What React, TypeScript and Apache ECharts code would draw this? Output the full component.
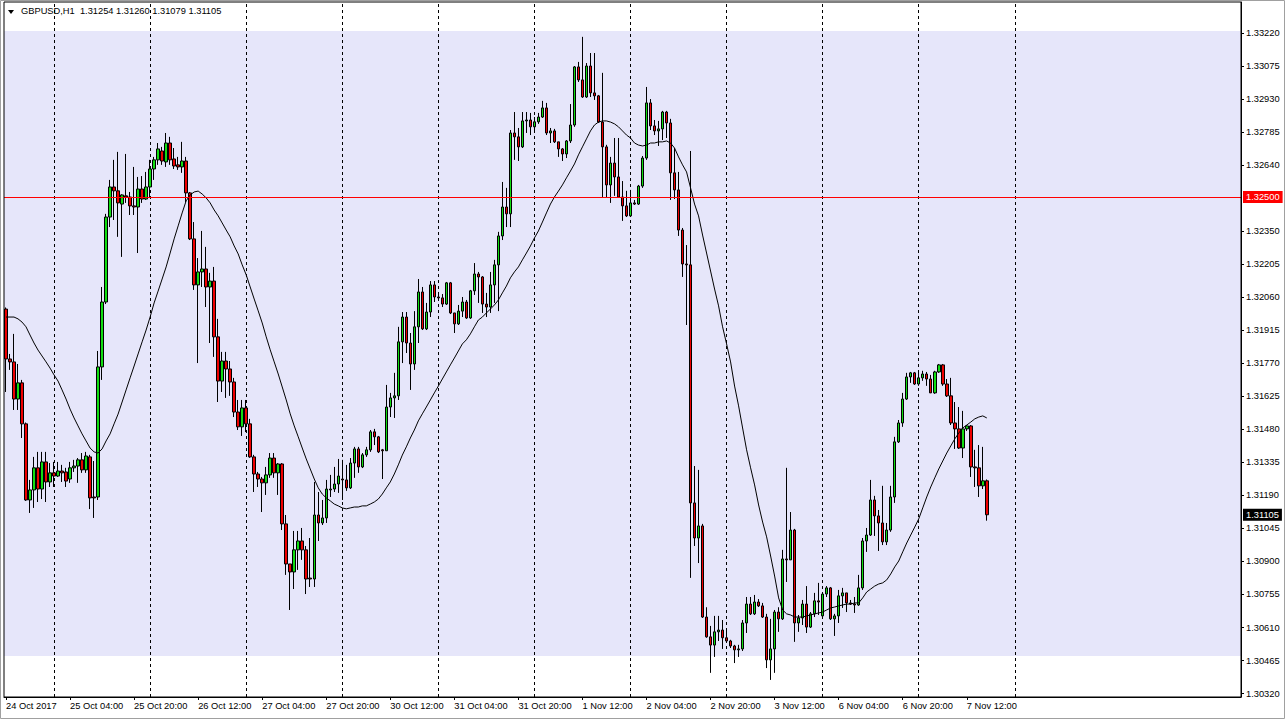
import React, { useEffect, useRef } from "react";
import * as echarts from "echarts";

const symbolName = "GBPUSD,H1";
const slotCount = 309; // bars + chart shift space

const timeLabels = [
  "24 Oct 2017", "25 Oct 04:00", "25 Oct 20:00", "26 Oct 12:00", "27 Oct 04:00", "27 Oct 20:00",
  "30 Oct 12:00", "31 Oct 04:00", "31 Oct 20:00", "1 Nov 12:00", "2 Nov 04:00", "2 Nov 20:00",
  "3 Nov 12:00", "6 Nov 04:00", "6 Nov 20:00", "7 Nov 12:00",
];
const daySeparators = [12, 36, 60, 84, 108, 132, 156, 180, 204, 228, 252];

const priceTicks = [
  1.3032, 1.30465, 1.3061, 1.30755, 1.309, 1.31045, 1.3119, 1.31335, 1.3148, 1.31625,
  1.3177, 1.31915, 1.3206, 1.32205, 1.3235, 1.3264, 1.32785, 1.3293, 1.33075, 1.3322,
];
const priceMin = 1.30305;
const priceMax = 1.33356;
const levelLine = 1.325;
const zoneLow = 1.30485;
const zoneHigh = 1.33229;

const opens = [
  1.32008,1.31789,1.31776,1.31613,1.31684,1.31504,1.31170,1.31214,1.31311,1.31218,
  1.31337,1.31249,1.31289,1.31275,1.31297,1.31293,1.31262,1.31311,1.31319,1.31346,
  1.31302,1.31359,1.31183,1.31183,1.31754,1.32039,1.32412,1.32544,1.32527,1.32469,
  1.32505,1.32500,1.32461,1.32456,1.32535,1.32491,1.32544,1.32623,1.32663,1.32702,
  1.32654,1.32737,1.32667,1.32641,1.32632,1.32658,1.32518,1.32316,1.32114,1.32171,
  1.32184,1.32105,1.32131,1.31886,1.31692,1.31780,1.31745,1.31688,1.31556,1.31491,
  1.31574,1.31504,1.31359,1.31284,1.31262,1.31245,1.31280,1.31354,1.31289,1.31328,
  1.31065,1.30889,1.30854,1.30951,1.30990,1.30951,1.30827,1.30823,1.31104,1.31069,
  1.31091,1.31214,1.31218,1.31240,1.31262,1.31258,1.31223,1.31332,1.31394,1.31315,
  1.31368,1.31390,1.31469,1.31447,1.31390,1.31386,1.31578,1.31618,1.31627,1.31864,
  1.31973,1.31859,1.31767,1.31930,1.32083,1.31921,1.31995,1.32114,1.32061,1.32057,
  1.32030,1.32123,1.31991,1.31943,1.31999,1.32039,1.31969,1.32088,1.32162,1.32149,
  1.32030,1.32017,1.32114,1.32202,1.32329,1.32456,1.32426,1.32781,1.32764,1.32720,
  1.32834,1.32838,1.32808,1.32830,1.32851,1.32891,1.32781,1.32790,1.32742,1.32711,
  1.32689,1.32746,1.32816,1.33071,1.33014,1.32939,1.33075,1.32957,1.32944,1.32829,
  1.32720,1.32553,1.32649,1.32588,1.32500,1.32461,1.32417,1.32474,1.32469,1.32548,
  1.32671,1.32913,1.32812,1.32790,1.32799,1.32873,1.32825,1.32606,1.32531,1.32355,
  1.32206,1.32202,1.31157,1.31003,1.31056,1.30656,1.30569,1.30533,1.30591,1.30599,
  1.30565,1.30551,1.30529,1.30512,1.30516,1.30630,1.30713,1.30670,1.30722,1.30705,
  1.30656,1.30468,1.30516,1.30678,1.30648,1.30911,1.30907,1.31038,1.30630,1.30652,
  1.30713,1.30612,1.30670,1.30727,1.30661,1.30757,1.30784,1.30648,1.30661,1.30749,
  1.30762,1.30718,1.30713,1.30709,1.30784,1.30990,1.31016,1.31170,1.31100,1.31069,
  1.30986,1.31038,1.31183,1.31425,1.31508,1.31613,1.31710,1.31728,1.31679,1.31706,
  1.31723,1.31701,1.31640,1.31732,1.31763,1.31679,1.31627,1.31508,1.31482,1.31398,
  1.31482,1.31495,1.31315,1.31311,1.31232,1.31254,
];

const highs = [
  1.32015,1.31811,1.31899,1.31767,1.31697,1.31510,1.31258,1.31359,1.31381,1.31381,
  1.31381,1.31332,1.31337,1.31337,1.31324,1.31311,1.31337,1.31346,1.31354,1.31376,
  1.31381,1.31368,1.31341,1.31824,1.32105,1.32426,1.32575,1.32663,1.32698,1.32512,
  1.32689,1.32522,1.32632,1.32588,1.32592,1.32610,1.32663,1.32676,1.32737,1.32720,
  1.32781,1.32764,1.32715,1.32676,1.32742,1.32676,1.32522,1.32390,1.32232,1.32351,
  1.32281,1.32167,1.32193,1.31965,1.31820,1.31820,1.31780,1.31706,1.31609,1.31609,
  1.31609,1.31526,1.31368,1.31293,1.31271,1.31315,1.31376,1.31376,1.31332,1.31332,
  1.31104,1.30889,1.31034,1.31034,1.31047,1.30968,1.31003,1.31249,1.31205,1.31170,
  1.31258,1.31280,1.31315,1.31350,1.31346,1.31324,1.31354,1.31403,1.31403,1.31376,
  1.31403,1.31477,1.31482,1.31451,1.31394,1.31675,1.31640,1.31728,1.31930,1.31995,
  1.31995,1.31903,1.31999,1.32140,1.32105,1.32035,1.32131,1.32131,1.32083,1.32074,
  1.32127,1.32127,1.31991,1.32026,1.32061,1.32048,1.32092,1.32210,1.32171,1.32153,
  1.32079,1.32171,1.32224,1.32347,1.32566,1.32540,1.32794,1.32873,1.32803,1.32873,
  1.32873,1.32869,1.32851,1.32869,1.32922,1.32913,1.32803,1.32799,1.32742,1.32715,
  1.32750,1.32908,1.33075,1.33093,1.33203,1.33088,1.33132,1.33132,1.32948,1.33045,
  1.32729,1.32676,1.32759,1.32759,1.32570,1.32527,1.32531,1.32487,1.32553,1.32680,
  1.32983,1.32930,1.32838,1.32834,1.32878,1.32878,1.32843,1.32715,1.32610,1.32364,
  1.32289,1.32702,1.31319,1.31302,1.31065,1.30699,1.30617,1.30661,1.30661,1.30643,
  1.30599,1.30556,1.30534,1.30534,1.30643,1.30744,1.30744,1.30753,1.30735,1.30718,
  1.30670,1.30648,1.30687,1.30699,1.30951,1.31311,1.31117,1.31043,1.30665,1.30731,
  1.30792,1.30678,1.30762,1.30806,1.30766,1.30792,1.30788,1.30670,1.30775,1.30784,
  1.30762,1.30731,1.30744,1.30841,1.31003,1.31047,1.31258,1.31188,1.31126,1.31232,
  1.31069,1.31232,1.31447,1.31521,1.31640,1.31728,1.31732,1.31732,1.31728,1.31737,
  1.31732,1.31719,1.31737,1.31767,1.31767,1.31701,1.31706,1.31600,1.31578,1.31561,
  1.31499,1.31499,1.31390,1.31411,1.31403,1.31260,
];

const lows = [
  1.31644,1.31741,1.31565,1.31565,1.31442,1.31166,1.31113,1.31135,1.31161,1.31174,
  1.31161,1.31227,1.31227,1.31271,1.31249,1.31227,1.31245,1.31293,1.31245,1.31289,
  1.31289,1.31130,1.31091,1.31170,1.31697,1.32030,1.32368,1.32399,1.32325,1.32237,
  1.32474,1.32421,1.32421,1.32254,1.32474,1.32487,1.32500,1.32575,1.32641,1.32641,
  1.32632,1.32641,1.32623,1.32619,1.32606,1.32478,1.32311,1.32092,1.31771,1.32105,
  1.32017,1.31859,1.31798,1.31600,1.31644,1.31618,1.31627,1.31534,1.31477,1.31451,
  1.31468,1.31355,1.31205,1.31227,1.31117,1.31192,1.31267,1.31267,1.31192,1.31038,
  1.30841,1.30687,1.30779,1.30863,1.30907,1.30757,1.30788,1.30788,1.30990,1.31060,
  1.31069,1.31183,1.31205,1.31201,1.31170,1.31210,1.31218,1.31267,1.31289,1.31310,
  1.31359,1.31381,1.31411,1.31376,1.31262,1.31386,1.31534,1.31530,1.31609,1.31771,
  1.31815,1.31653,1.31741,1.31859,1.31916,1.31916,1.31973,1.32039,1.32057,1.32017,
  1.32026,1.31986,1.31903,1.31938,1.31973,1.31965,1.31965,1.32070,1.32035,1.31991,
  1.31973,1.31991,1.32035,1.31999,1.32311,1.32368,1.32368,1.32663,1.32658,1.32715,
  1.32781,1.32772,1.32781,1.32821,1.32847,1.32772,1.32737,1.32737,1.32676,1.32658,
  1.32671,1.32737,1.32808,1.33005,1.32935,1.32935,1.32939,1.32926,1.32825,1.32500,
  1.32496,1.32474,1.32505,1.32496,1.32395,1.32412,1.32412,1.32465,1.32465,1.32540,
  1.32663,1.32794,1.32772,1.32724,1.32750,1.32759,1.32487,1.32491,1.32329,1.32149,
  1.31938,1.30828,1.30968,1.30893,1.30652,1.30565,1.30411,1.30481,1.30551,1.30516,
  1.30547,1.30520,1.30454,1.30481,1.30507,1.30586,1.30665,1.30665,1.30700,1.30652,
  1.30432,1.30380,1.30411,1.30591,1.30643,1.30810,1.30907,1.30547,1.30591,1.30621,
  1.30586,1.30608,1.30656,1.30665,1.30652,1.30744,1.30643,1.30573,1.30630,1.30696,
  1.30678,1.30709,1.30674,1.30705,1.30775,1.30942,1.31012,1.31012,1.30946,1.30972,
  1.30972,1.31030,1.31157,1.31420,1.31491,1.31609,1.31684,1.31675,1.31671,1.31693,
  1.31671,1.31640,1.31636,1.31728,1.31671,1.31622,1.31499,1.31394,1.31394,1.31354,
  1.31473,1.31271,1.31227,1.31183,1.31218,1.31079,
];

const closes = [
  1.31789,1.31776,1.31613,1.31684,1.31504,1.31170,1.31214,1.31311,1.31218,1.31337,
  1.31249,1.31289,1.31275,1.31297,1.31289,1.31253,1.31311,1.31319,1.31346,1.31302,
  1.31363,1.31179,1.31179,1.31754,1.32039,1.32412,1.32544,1.32527,1.32474,1.32509,
  1.32500,1.32461,1.32456,1.32535,1.32491,1.32544,1.32623,1.32663,1.32711,1.32658,
  1.32737,1.32663,1.32636,1.32632,1.32658,1.32518,1.32316,1.32114,1.32171,1.32184,
  1.32105,1.32131,1.31886,1.31692,1.31780,1.31745,1.31688,1.31556,1.31491,1.31574,
  1.31504,1.31359,1.31284,1.31262,1.31245,1.31280,1.31354,1.31289,1.31328,1.31065,
  1.30889,1.30854,1.30951,1.30990,1.30951,1.30823,1.30823,1.31104,1.31069,1.31091,
  1.31218,1.31218,1.31240,1.31275,1.31258,1.31223,1.31332,1.31394,1.31315,1.31368,
  1.31390,1.31469,1.31447,1.31381,1.31386,1.31578,1.31618,1.31627,1.31864,1.31973,
  1.31859,1.31767,1.31930,1.32083,1.31921,1.31995,1.32114,1.32061,1.32057,1.32030,
  1.32123,1.31991,1.31943,1.31999,1.32039,1.31969,1.32088,1.32162,1.32149,1.32030,
  1.32017,1.32114,1.32202,1.32329,1.32456,1.32426,1.32781,1.32764,1.32720,1.32834,
  1.32838,1.32808,1.32830,1.32851,1.32891,1.32781,1.32790,1.32742,1.32711,1.32689,
  1.32746,1.32816,1.33071,1.33014,1.32939,1.33075,1.32957,1.32944,1.32829,1.32720,
  1.32553,1.32649,1.32588,1.32500,1.32461,1.32417,1.32474,1.32469,1.32548,1.32671,
  1.32913,1.32812,1.32790,1.32799,1.32873,1.32825,1.32606,1.32531,1.32355,1.32206,
  1.32202,1.31157,1.31003,1.31056,1.30656,1.30569,1.30533,1.30591,1.30599,1.30565,
  1.30551,1.30529,1.30512,1.30516,1.30630,1.30713,1.30670,1.30722,1.30705,1.30656,
  1.30468,1.30516,1.30678,1.30648,1.30911,1.30907,1.31038,1.30630,1.30652,1.30713,
  1.30612,1.30670,1.30727,1.30722,1.30757,1.30784,1.30648,1.30661,1.30749,1.30762,
  1.30718,1.30713,1.30709,1.30784,1.30990,1.31016,1.31170,1.31100,1.31069,1.30986,
  1.31038,1.31183,1.31425,1.31508,1.31613,1.31710,1.31728,1.31679,1.31706,1.31723,
  1.31701,1.31640,1.31732,1.31763,1.31679,1.31627,1.31508,1.31482,1.31398,1.31482,
  1.31495,1.31315,1.31311,1.31232,1.31254,1.31105,
];

const movingAverage = [
  1.31973,1.31973,1.31973,1.31965,1.31951,1.31930,1.31894,1.31859,1.31828,1.31802,
  1.31776,1.31749,1.31719,1.31692,1.31653,1.31613,1.31569,1.31530,1.31495,1.31460,
  1.31429,1.31398,1.31381,1.31376,1.31394,1.31429,1.31460,1.31504,1.31547,1.31600,
  1.31653,1.31706,1.31758,1.31811,1.31864,1.31916,1.31973,1.32035,1.32087,1.32140,
  1.32193,1.32254,1.32316,1.32373,1.32430,1.32483,1.32509,1.32522,1.32526,1.32513,
  1.32496,1.32474,1.32443,1.32417,1.32386,1.32355,1.32325,1.32285,1.32250,1.32202,
  1.32158,1.32105,1.32052,1.32000,1.31947,1.31886,1.31829,1.31776,1.31723,1.31666,
  1.31609,1.31548,1.31495,1.31447,1.31398,1.31350,1.31306,1.31262,1.31223,1.31196,
  1.31179,1.31166,1.31152,1.31144,1.31135,1.31131,1.31135,1.31139,1.31139,1.31144,
  1.31144,1.31152,1.31161,1.31174,1.31196,1.31223,1.31249,1.31284,1.31324,1.31367,
  1.31403,1.31442,1.31477,1.31517,1.31548,1.31578,1.31609,1.31640,1.31670,1.31701,
  1.31732,1.31763,1.31793,1.31824,1.31855,1.31873,1.31899,1.31930,1.31960,1.31973,
  1.31991,1.32008,1.32026,1.32048,1.32079,1.32109,1.32145,1.32171,1.32193,1.32224,
  1.32254,1.32285,1.32320,1.32351,1.32390,1.32430,1.32469,1.32500,1.32526,1.32553,
  1.32584,1.32614,1.32645,1.32685,1.32720,1.32755,1.32790,1.32816,1.32829,1.32834,
  1.32834,1.32829,1.32821,1.32808,1.32790,1.32772,1.32759,1.32737,1.32728,1.32724,
  1.32728,1.32737,1.32737,1.32742,1.32742,1.32746,1.32737,1.32715,1.32676,1.32641,
  1.32610,1.32540,1.32469,1.32417,1.32333,1.32254,1.32175,1.32096,1.32022,1.31930,
  1.31855,1.31776,1.31670,1.31583,1.31486,1.31390,1.31311,1.31236,1.31148,1.31073,
  1.31008,1.30924,1.30836,1.30740,1.30687,1.30670,1.30665,1.30656,1.30656,1.30656,
  1.30661,1.30665,1.30670,1.30674,1.30678,1.30687,1.30696,1.30700,1.30705,1.30709,
  1.30713,1.30713,1.30718,1.30718,1.30740,1.30766,1.30779,1.30792,1.30801,1.30806,
  1.30819,1.30845,1.30876,1.30902,1.30942,1.30981,1.31016,1.31051,1.31087,1.31135,
  1.31183,1.31227,1.31267,1.31306,1.31341,1.31376,1.31407,1.31438,1.31464,1.31486,
  1.31499,1.31512,1.31526,1.31534,1.31539,1.31530,
];

const FONT = '"Liberation Sans", Arial, sans-serif';
const FS = 9.3;

export default function App() {
  const ref = useRef<HTMLDivElement>(null);

  useEffect(() => {
    document.body.style.margin = "0";
    if (!ref.current) return;
    const chart = echarts.init(ref.current, null, { renderer: "svg" });

    const slots = Array.from({ length: slotCount }, (_, i) => String(i));
    const candles = opens.map((o, i) => {
      const c = closes[i];
      return [o, c, Math.min(lows[i], o, c), Math.max(highs[i], o, c)];
    });
    const last = opens.length - 1;
    const bid = closes[last];
    const header = `${symbolName}  ${opens[last].toFixed(5)} ${highs[last].toFixed(5)} ${lows[last].toFixed(5)} ${closes[last].toFixed(5)}`;
    const showLabel = (idx: number) => idx % 16 === 0 && idx / 16 < timeLabels.length;

    const boxLabel = (bg: string, value: number) => ({
      show: true,
      position: "end",
      distance: 2,
      formatter: () => value.toFixed(5),
      backgroundColor: bg,
      color: "#fff",
      padding: [2, 3, 1, 3],
      fontSize: FS,
      fontFamily: FONT,
    });

    chart.setOption({
      animation: false,
      backgroundColor: "#ffffff",
      title: {
        text: header,
        left: 21,
        top: 6,
        padding: 0,
        textStyle: { fontSize: FS, fontWeight: "normal", color: "#000", fontFamily: FONT },
      },
      graphic: [
        { type: "polygon", shape: { points: [[8, 10], [14, 10], [11, 14]] }, style: { fill: "#000" }, z: 50 },
        { type: "rect", shape: { x: 0.5, y: 0.5, width: 1284, height: 718 }, style: { fill: "none", stroke: "#a0a0a0", lineWidth: 1 }, z: 50 },
      ],
      grid: {
        left: 4, right: 45, top: 2, bottom: 23,
        show: true, z: 10, borderColor: "#000", borderWidth: 1, backgroundColor: "transparent",
      },
      xAxis: {
        type: "category",
        data: slots,
        boundaryGap: true,
        axisLine: { show: true, lineStyle: { color: "#000" } },
        axisTick: { show: true, alignWithLabel: true, length: 3, interval: showLabel, lineStyle: { color: "#000" } },
        axisLabel: {
          interval: showLabel,
          formatter: (_v: string, idx: number) => (showLabel(idx) ? timeLabels[idx / 16] : ""),
          align: "left",
          margin: 4,
          color: "#000",
          fontSize: FS,
          fontFamily: FONT,
        },
        splitLine: { show: false },
      },
      yAxis: {
        type: "value",
        position: "right",
        min: priceMin,
        max: priceMax,
        axisLine: { show: true, lineStyle: { color: "#000" } },
        axisTick: { show: true, length: 3, customValues: priceTicks, lineStyle: { color: "#000" } },
        axisLabel: {
          customValues: priceTicks,
          formatter: (v: number) => v.toFixed(5),
          margin: 5,
          color: "#000",
          fontSize: FS,
          fontFamily: FONT,
        },
        splitLine: { show: false },
      },
      series: [
        {
          type: "candlestick",
          name: "GBPUSD",
          data: candles,
          barWidth: 3,
          z: 2,
          itemStyle: {
            color: "#11dd11",
            color0: "#ee0000",
            borderColor: "#000",
            borderColor0: "#000",
            borderWidth: 1,
          },
        },
        {
          type: "line",
          name: "MA",
          data: movingAverage,
          symbol: "none",
          showSymbol: false,
          z: 3,
          lineStyle: { color: "#000", width: 1 },
          markArea: {
            silent: true,
            z: 0.5,
            itemStyle: { color: "#e6e6fa" },
            data: [[{ yAxis: zoneLow }, { yAxis: zoneHigh }]],
          },
          markLine: {
            silent: true,
            symbol: ["none", "none"],
            z: 1,
            label: { show: false },
            lineStyle: { color: "#000", width: 1, type: [3, 3] },
            data: daySeparators.map((b) => ({ xAxis: b })),
          },
        },
        {
          type: "line",
          name: "Levels",
          data: [],
          z: 4,
          markLine: {
            silent: true,
            precision: 5,
            symbol: ["none", "none"],
            z: 5,
            data: [
              { yAxis: levelLine, lineStyle: { color: "#ff0000", width: 1, type: "solid" }, label: boxLabel("#ff0000", levelLine) },
              { yAxis: bid, lineStyle: { color: "rgba(0,0,0,0)", width: 1, type: "solid" }, label: boxLabel("#000000", bid) },
            ],
          },
        },
      ],
    });

    return () => chart.dispose();
  }, []);

  return <div ref={ref} style={{ width: 1286, height: 720 }} />;
}
